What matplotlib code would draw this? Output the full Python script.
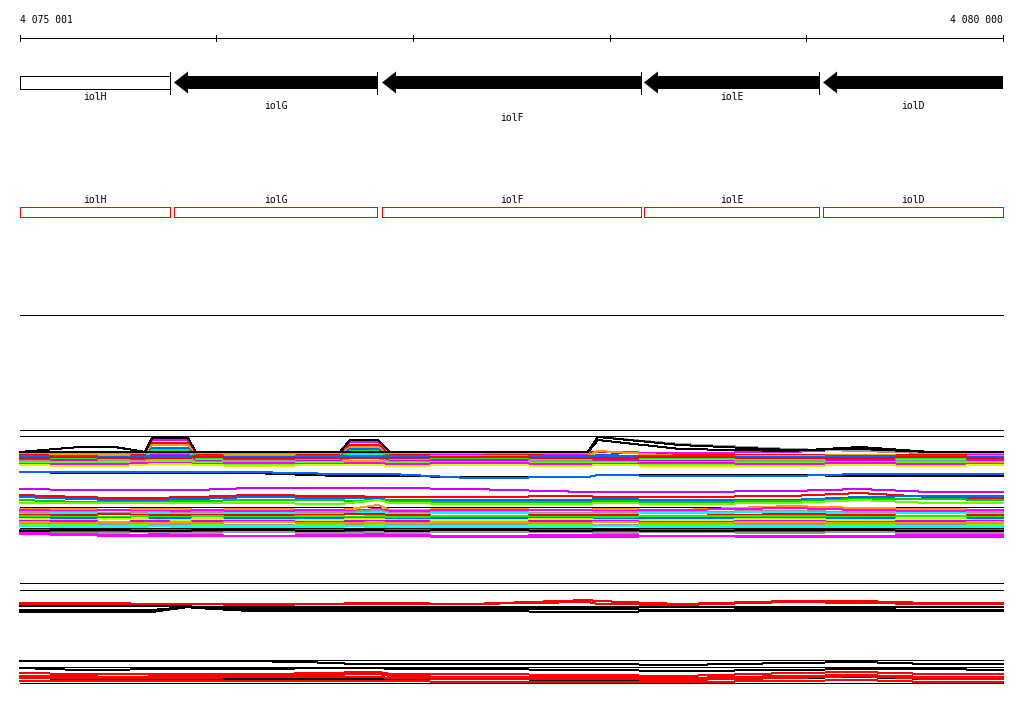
import matplotlib

matplotlib.use("Agg")
import matplotlib.pyplot as plt
from matplotlib.patches import Polygon, Rectangle

# ─────────────────────────────────────────────
# region / genes
# ─────────────────────────────────────────────
REGION_START = 4075001
REGION_END = 4080000
TICKS = [4075001, 4076000, 4077000, 4078000, 4079000, 4080000]

GENE_NAMES = ["iolH", "iolG", "iolF", "iolE", "iolD"]
GENE_START = [4075001, 4075784, 4076842, 4078174, 4079085]
GENE_END = [4075764, 4076817, 4078159, 4079064, 4080000]
GENE_STRAND = ["?", "-", "-", "-", "-"]
GENE_LABEL_ROW = [0, 1, 2, 0, 1]

# sample positions for the signal tracks
POS = [4075001, 4075306, 4075484, 4075637, 4075672, 4075855, 4075896, 4076171,
       4076628, 4076679, 4076822, 4076883, 4077289, 4077889, 4077940, 4078357,
       4078917, 4079273, 4079629, 4080000]

# ─────────────────────────────────────────────
# panel 1 signals
# ─────────────────────────────────────────────
P1_FRAME = [115, 109]
P1_COLORS = ["#ff00ff", "#ff0000", "#ff9900", "#0066ff", "#00ff00", "#00ffff", "#cc00ff",
             "#999999", "#ff9900", "#66ff00", "#ff00ff", "#ccff00", "#0066ff", "#ff0000",
             "#999999", "#000000", "#000000", "#000000", "#0066ff"]
P1_SERIES = [
    [91, 91, 91, 91, 105, 105, 91, 91, 91, 103, 103, 91, 90, 91, 93, 92, 93, 96, 91, 90],
    [90, 90, 90, 90, 102, 102, 90, 89, 90, 100, 100, 90, 89, 93, 93, 90, 90, 90, 90, 89],
    [89, 90, 90, 89, 100, 100, 89, 90, 89, 98, 98, 88, 89, 89, 94, 89, 89, 90, 89, 89],
    [88, 87, 87, 88, 97, 97, 88, 87, 88, 96, 96, 88, 87, 88, 90, 88, 87, 88, 88, 87],
    [87, 86, 86, 87, 95, 95, 87, 86, 87, 94, 94, 86, 87, 86, 88, 86, 86, 87, 86, 87],
    [86, 85, 86, 85, 93, 93, 85, 85, 85, 91, 91, 85, 84, 85, 86, 85, 85, 86, 85, 84],
    [85, 85, 84, 85, 91, 91, 84, 85, 84, 89, 89, 84, 85, 84, 85, 84, 84, 85, 84, 85],
    [84, 83, 84, 84, 88, 88, 83, 84, 83, 87, 87, 83, 83, 84, 83, 83, 84, 83, 84, 83],
    [83, 83, 82, 83, 85, 85, 82, 83, 83, 84, 84, 82, 83, 82, 83, 83, 82, 83, 82, 83],
    [82, 82, 83, 82, 84, 84, 82, 81, 82, 83, 83, 82, 81, 82, 82, 81, 82, 81, 82, 81],
    [81, 81, 81, 82, 82, 82, 81, 82, 81, 82, 82, 81, 82, 81, 81, 82, 81, 82, 81, 81],
    [80, 79, 79, 80, 81, 81, 80, 79, 80, 80, 80, 79, 80, 79, 80, 79, 79, 80, 79, 80],
    [89, 89, 88, 89, 89, 89, 89, 88, 89, 89, 89, 89, 88, 89, 89, 89, 88, 89, 89, 88],
    [87, 88, 87, 87, 87, 87, 88, 87, 87, 87, 87, 87, 88, 87, 87, 88, 87, 87, 88, 87],
    [92, 92, 92, 92, 92, 92, 92, 92, 92, 92, 92, 92, 92, 92, 108, 101, 96, 94, 92, 92],
    [93, 93, 93, 93, 107, 107, 93, 93, 93, 105, 105, 93, 93, 93, 105, 96, 94, 98, 93, 93],
    [93, 98, 98, 93, 93, 93, 93, 93, 93, 93, 93, 93, 93, 93, 108, 100, 95, 96, 93, 93],
    [73, 72, 72, 72, 72, 72, 72, 72, 69, 69, 69, 69, 68, 68, 70, 70, 70, 69, 69, 69],
    [73, 73, 73, 73, 73, 73, 73, 73, 71, 71, 71, 71, 67, 68, 70, 69, 69, 71, 71, 71],
]

P1B_COLORS = ["#cc00ff", "#ff0000", "#0066ff", "#00cc00", "#66ff00", "#000000", "#ff9900",
              "#ff00ff", "#999999", "#00ffff", "#ff0000", "#00ff00", "#0066ff", "#ccff00",
              "#cc00ff", "#ff9900", "#999999", "#66ff00", "#00ffff", "#000000", "#0066ff",
              "#ff0000", "#999999", "#ff00ff", "#ff00ff", "#000000"]
P1B_SERIES = [
    [56, 55, 55, 55, 55, 55, 55, 57, 57, 57, 57, 57, 56, 53, 53, 53, 54, 56, 53, 53],
    [50, 48, 47, 47, 47, 48, 48, 50, 49, 49, 48, 48, 48, 49, 48, 48, 49, 52, 48, 47],
    [48, 46, 45, 45, 45, 46, 46, 48, 47, 47, 46, 45, 45, 45, 46, 45, 45, 48, 49, 49],
    [45, 43, 43, 43, 43, 44, 44, 45, 45, 44, 45, 44, 43, 43, 44, 43, 44, 46, 46, 45],
    [42, 42, 42, 42, 42, 42, 42, 42, 41, 42, 45, 42, 41, 41, 42, 41, 42, 45, 42, 42],
    [38, 38, 38, 38, 38, 38, 38, 38, 38, 38, 38, 38, 38, 38, 38, 38, 38, 38, 38, 38],
    [36, 36, 35, 36, 36, 36, 35, 36, 35, 36, 40, 35, 36, 35, 36, 35, 39, 37, 36, 35],
    [35, 34, 35, 34, 34, 34, 35, 34, 35, 34, 36, 34, 35, 35, 34, 35, 37, 35, 34, 35],
    [33, 33, 32, 33, 33, 32, 33, 32, 33, 33, 35, 32, 33, 32, 33, 33, 34, 33, 32, 33],
    [31, 32, 31, 31, 32, 31, 31, 32, 31, 31, 33, 31, 32, 31, 31, 32, 33, 31, 32, 31],
    [30, 30, 31, 30, 30, 30, 30, 30, 30, 31, 31, 30, 29, 30, 30, 29, 31, 30, 29, 30],
    [29, 28, 28, 29, 28, 28, 29, 28, 29, 28, 29, 28, 29, 28, 28, 29, 29, 28, 29, 28],
    [27, 27, 27, 26, 27, 27, 26, 27, 27, 27, 27, 26, 27, 27, 26, 27, 27, 27, 26, 27],
    [26, 25, 26, 26, 25, 25, 26, 25, 25, 26, 26, 25, 25, 26, 25, 25, 26, 25, 26, 25],
    [24, 24, 23, 24, 24, 23, 24, 24, 23, 24, 24, 24, 23, 24, 24, 23, 24, 23, 24, 24],
    [23, 22, 23, 22, 22, 23, 22, 23, 22, 22, 23, 22, 23, 22, 23, 22, 23, 22, 22, 23],
    [21, 21, 21, 21, 20, 21, 21, 20, 21, 21, 21, 20, 21, 21, 20, 21, 21, 20, 21, 21],
    [20, 20, 19, 20, 19, 19, 20, 19, 20, 19, 20, 19, 19, 20, 19, 20, 19, 20, 19, 20],
    [19, 18, 18, 18, 19, 18, 18, 18, 18, 19, 18, 18, 18, 18, 19, 18, 18, 18, 18, 18],
    [17, 17, 17, 17, 17, 17, 17, 17, 17, 17, 17, 17, 17, 17, 17, 17, 17, 17, 17, 17],
    [15, 15, 14, 15, 15, 15, 15, 14, 15, 15, 15, 15, 14, 15, 15, 15, 15, 14, 15, 15],
    [14, 14, 15, 14, 14, 14, 14, 15, 14, 14, 14, 14, 15, 14, 14, 14, 14, 15, 14, 14],
    [13, 12, 12, 13, 13, 12, 12, 13, 12, 12, 13, 12, 13, 13, 12, 13, 12, 13, 12, 12],
    [12, 11, 10, 10, 11, 10, 10, 9, 10, 10, 11, 10, 9, 10, 10, 9, 8, 9, 10, 10],
    [11, 10, 9, 9, 9, 9, 9, 9, 9, 9, 9, 9, 8, 8, 8, 9, 9, 8, 8, 8],
    [14, 15, 15, 14, 14, 14, 15, 15, 14, 15, 15, 14, 15, 14, 15, 14, 15, 15, 14, 14],
]

# ─────────────────────────────────────────────
# panel 2 / panel 3 signals
# ─────────────────────────────────────────────
P2_FRAME = [37, 30]
P2_COLORS = ["#ff0000", "#ff0000", "#000000", "#000000", "#000000"]
P2_SERIES = [
    [17, 17, 17, 16, 16, 16, 16, 16, 16, 17, 17, 17, 16, 20, 19, 16, 19, 19, 17, 17],
    [16, 16, 15, 15, 16, 16, 16, 15, 16, 16, 16, 16, 16, 18, 16, 15, 18, 17, 16, 16],
    [14, 14, 14, 14, 14, 14, 13, 13, 13, 13, 13, 13, 13, 13, 13, 13, 13, 13, 13, 13],
    [10, 10, 10, 10, 10, 13, 13, 11, 11, 11, 11, 11, 11, 11, 11, 10, 11, 11, 10, 10],
    [8, 8, 8, 8, 8, 13, 12, 9, 9, 9, 9, 9, 9, 8, 8, 9, 9, 9, 9, 9],
]

P3_FRAME = [30, 23, 7]
P3_COLORS = ["#000000", "#000000", "#000000", "#ff0000", "#ff0000", "#ff0000", "#ff0000"]
P3_SERIES = [
    [29, 29, 29, 29, 29, 29, 29, 29, 27, 26, 26, 26, 26, 26, 26, 25, 27, 28, 26, 26],
    [22, 20, 20, 21, 21, 21, 21, 21, 22, 22, 22, 21, 21, 20, 20, 19, 20, 21, 21, 20],
    [12, 11, 11, 11, 11, 11, 11, 11, 11, 11, 11, 11, 11, 10, 10, 11, 12, 13, 11, 11],
    [17, 16, 16, 16, 16, 16, 16, 16, 17, 18, 18, 16, 16, 15, 15, 14, 17, 18, 16, 16],
    [14, 14, 13, 13, 14, 14, 14, 14, 15, 16, 16, 14, 13, 13, 13, 12, 14, 15, 13, 13],
    [12, 12, 12, 12, 12, 12, 12, 13, 13, 13, 13, 12, 11, 11, 11, 10, 12, 14, 11, 11],
    [9, 9, 9, 9, 9, 9, 9, 9, 9, 9, 9, 9, 8, 8, 8, 8, 9, 10, 8, 8],
]

W, H = 1024, 714
BP_PER_PX = (REGION_END - REGION_START) / 983
XLIM = (REGION_START - 20 * BP_PER_PX, REGION_START + (W - 20) * BP_PER_PX)
FONT = dict(family="DejaVu Sans Mono", fontsize=7)
LW = 0.72  # one pixel at 100 dpi

fig = plt.figure(figsize=(W / 100, H / 100), dpi=100)
fig.patch.set_facecolor("white")

# layout axes for the ruler and gene tracks (rows in pixels)
ax = fig.add_axes([0, 0, 1, 1])
ax.set_xlim(*XLIM)
ax.set_ylim(H, 0)
ax.axis("off")

# ruler
ax.text(REGION_START, 20, f"{REGION_START:,}".replace(",", " "), ha="left", va="center", **FONT)
ax.text(REGION_END, 20, f"{REGION_END:,}".replace(",", " "), ha="right", va="center", **FONT)
ax.plot([REGION_START, REGION_END], [38, 38], color="black", lw=LW, antialiased=False)
for t in TICKS:
    ax.plot([t, t], [35, 41], color="black", lw=LW, antialiased=False)

# gene arrows
head = 14 * BP_PER_PX
label_y = [97, 106, 118]
for name, s, e, strand, row in zip(GENE_NAMES, GENE_START, GENE_END, GENE_STRAND, GENE_LABEL_ROW):
    if strand == "-":
        pts = [(s, 82.5), (s + head, 71.5), (s + head, 76), (e, 76), (e, 89), (s + head, 89), (s + head, 93.5)]
        ax.add_patch(Polygon(pts, closed=True, facecolor="black", edgecolor="none"))
    else:
        ax.add_patch(Rectangle((s, 76), e - s, 13, facecolor="white", edgecolor="black",
                               lw=LW, antialiased=False))
    if e < REGION_END:
        ax.plot([e, e], [72, 94], color="black", lw=LW, antialiased=False)
    ax.text((s + e) / 2, label_y[row], name, ha="center", va="center", **FONT)

    # second annotation track
    ax.add_patch(Rectangle((s, 207), e - s, 10, facecolor="white", edgecolor="#ff0000",
                           lw=LW, antialiased=False))
    ax.text((s + e) / 2, 200, name, ha="center", va="center", **FONT)

ax.plot([REGION_START, REGION_END], [315, 315], color="black", lw=LW, antialiased=False)


def signal_panel(top, bottom, ymax, frame, groups):
    pax = fig.add_axes([0, (H - bottom) / H, 1, (bottom - top) / H])
    pax.set_xlim(*XLIM)
    pax.set_ylim(0, ymax)
    pax.axis("off")
    for y in frame:
        pax.plot([REGION_START, REGION_END], [y, y], color="black", lw=LW, antialiased=False)
    for colors, series in groups:
        for c, vals in zip(colors, series):
            pax.plot(POS, vals, color=c, lw=LW, antialiased=False)
    return pax


signal_panel(425, 545, 120, P1_FRAME, [(P1B_COLORS, P1B_SERIES), (P1_COLORS, P1_SERIES)])
signal_panel(578, 620, 42, P2_FRAME, [(P2_COLORS, P2_SERIES)])
signal_panel(655, 690, 35, P3_FRAME, [(P3_COLORS, P3_SERIES)])

fig.savefig("out.png", dpi=100, facecolor="white")
